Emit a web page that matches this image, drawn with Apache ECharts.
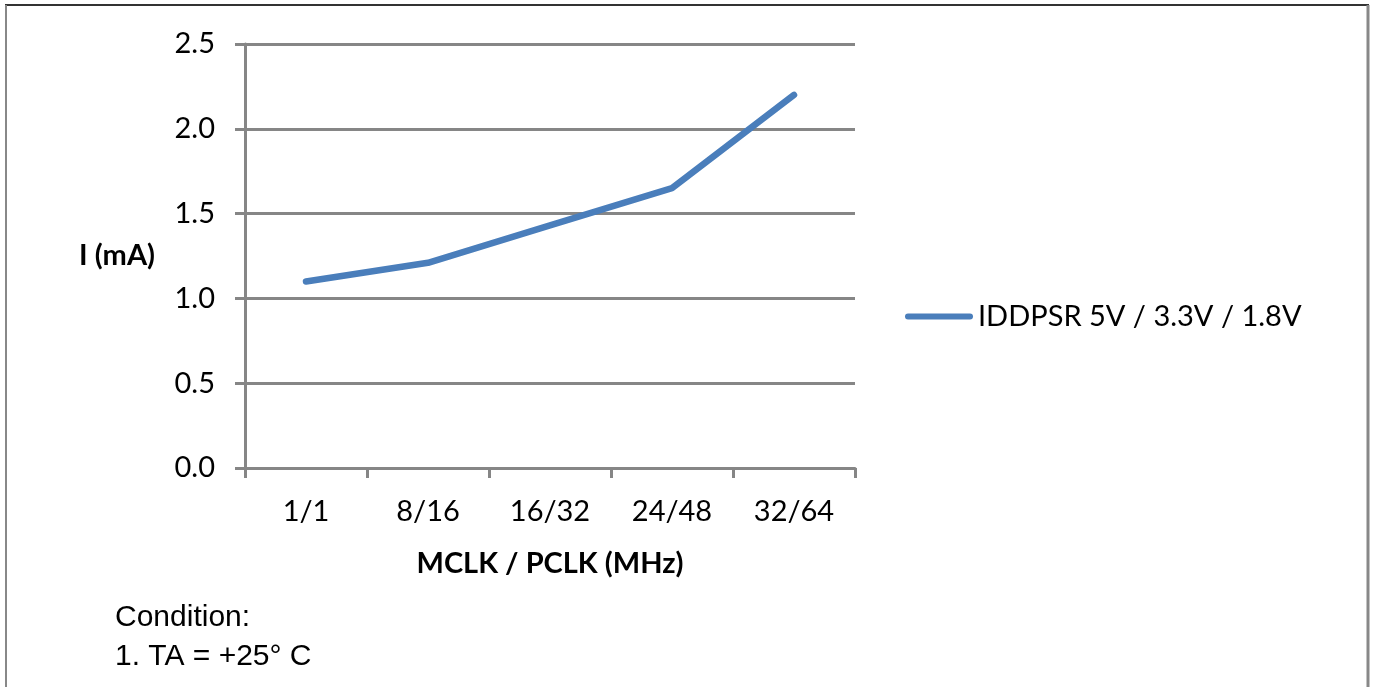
<!DOCTYPE html>
<html><head><meta charset="utf-8">
<script src="https://cdn.jsdelivr.net/npm/echarts@6/dist/echarts.min.js"></script>
<style>html,body{margin:0;padding:0;background:#fff}#c{width:1373px;height:687px}</style>
</head><body><div id="c"></div>
<script>
const categories = ['1/1', '8/16', '16/32', '24/48', '32/64'];
const iddpsr = [1.10, 1.21, 1.43, 1.65, 2.20];
const seriesName = 'IDDPSR 5V / 3.3V / 1.8V';
const yTicks = { min: 0, max: 2.5, interval: 0.5 };

const chart = echarts.init(document.getElementById('c'));
const tickFont = 'Lato';
const fs = 29;
chart.setOption({
  animation: false,
  backgroundColor: '#fff',
  grid: { left: 245, right: 518, top: 44, bottom: 219, containLabel: false },
  legend: {
    left: 900, top: 297, itemWidth: 68, itemHeight: 6, itemGap: 0,
    icon: 'path://M3,0 L65,0 A3,3 0 0 1 65,6 L3,6 A3,3 0 0 1 3,0 Z',
    textStyle: { fontFamily: tickFont, fontSize: fs, color: '#000' },
    data: [seriesName]
  },
  xAxis: {
    type: 'category', data: categories, boundaryGap: true,
    name: 'MCLK / PCLK (MHz)', nameLocation: 'middle', nameGap: 81,
    nameTextStyle: { fontFamily: tickFont, fontSize: fs, fontWeight: 'bold', color: '#000' },
    axisLine: { lineStyle: { color: '#868686', width: 3 } },
    axisTick: { show: true, length: 10, lineStyle: { color: '#868686', width: 3 }, alignWithLabel: false },
    axisLabel: { margin: 29, fontFamily: tickFont, fontSize: fs, color: '#000' },
    splitLine: { show: false }
  },
  yAxis: {
    type: 'value', min: yTicks.min, max: yTicks.max, interval: yTicks.interval,
    name: 'I (mA)', nameLocation: 'middle', nameRotate: 0, nameGap: 90,
    nameTextStyle: { fontFamily: tickFont, fontSize: fs, fontWeight: 'bold', color: '#000' },
    axisLine: { show: true, lineStyle: { color: '#868686', width: 3 } },
    axisTick: { show: true, length: 10, lineStyle: { color: '#868686', width: 3 } },
    axisLabel: { margin: 30, fontFamily: tickFont, fontSize: fs, color: '#000', formatter: v => v.toFixed(1) },
    splitLine: { show: true, lineStyle: { color: '#868686', width: 3 } }
  },
  series: [{
    name: seriesName, type: 'line', data: iddpsr, showSymbol: false, symbol: 'none',
    lineStyle: { color: '#4a7ebb', width: 6.5, cap: 'round', join: 'round' },
    itemStyle: { color: '#4a7ebb' }
  }],
  graphic: [
    { type: 'line', shape: { x1: 5, y1: 5, x2: 1369, y2: 5 }, style: { stroke: '#333', lineWidth: 2 } },
    { type: 'line', shape: { x1: 6, y1: 5, x2: 6, y2: 687 }, style: { stroke: '#888', lineWidth: 2 } },
    { type: 'line', shape: { x1: 1368, y1: 5, x2: 1368, y2: 687 }, style: { stroke: '#888', lineWidth: 3 } },
    { type: 'text', left: 115, top: 598, style: { text: 'Condition:\n1. TA = +25° C', font: '30px "Liberation Sans", Arial, sans-serif', fill: '#000', lineHeight: 39 } }
  ]
});
</script></body></html>
